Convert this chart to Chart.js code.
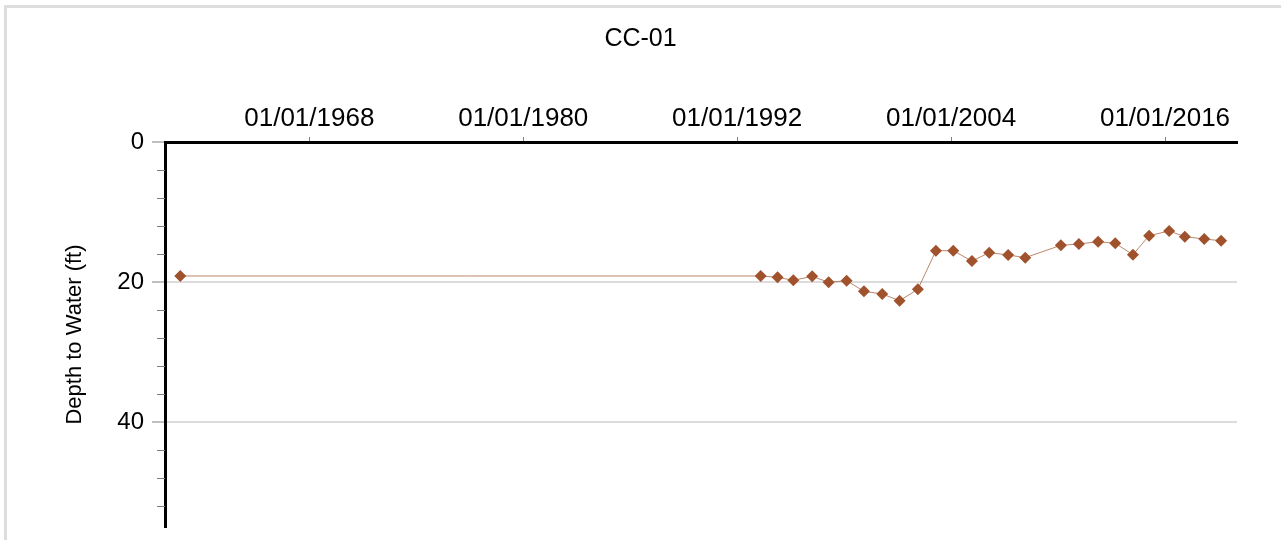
<!DOCTYPE html>
<html lang="en">
<head>
    <meta charset="UTF-8">
    <title>CC-01</title>
    <script src="https://cdn.jsdelivr.net/npm/chart.js"></script>
    <style>
        body {
            margin: 0;
            background: #ffffff;
            font-family: "Liberation Sans", Arial, sans-serif;
        }
        .wrap {
            position: relative;
            width: 1281px;
            height: 540px;
            overflow: hidden;
        }
        .frame {
            position: absolute;
            left: 4px;
            top: 5px;
            width: 1320px;
            height: 560px;
            border: 3px solid #dddddd;
            box-sizing: border-box;
        }
        canvas {
            position: absolute;
            left: 0;
            top: 0;
        }
    </style>
</head>
<body>
    <div class="wrap">
        <div class="frame"></div>
        <canvas id="depthChart" width="1281" height="540"></canvas>
    </div>

    <script>
        // measurement dates and depth to water (ft)
        const sampleDates = [
            '1960-10-05', '1993-04-27', '1994-04-08', '1995-02-24', '1996-03-17',
            '1997-02-17', '1998-02-21', '1999-02-10', '2000-02-20', '2001-02-10',
            '2002-02-20', '2003-02-24', '2004-02-14', '2005-03-03', '2006-02-20',
            '2007-03-15', '2008-02-28', '2010-02-28', '2011-03-03', '2012-04-01',
            '2013-03-17', '2014-03-15', '2015-02-10', '2016-03-25', '2017-02-10',
            '2018-03-15', '2019-02-24'
        ];
        const depthValues = [
            19.14, 19.14, 19.33, 19.76, 19.19,
            20.04, 19.81, 21.33, 21.71, 22.67,
            21.03, 15.53, 15.53, 17.0, 15.81,
            16.14, 16.52, 14.76, 14.57, 14.24,
            14.47, 16.10, 13.38, 12.71, 13.52,
            13.86, 14.10
        ];

        const xTickDates = ['1968-01-01', '1980-01-01', '1992-01-01', '2004-01-01', '2016-01-01'];
        const yTickValues = [0, 20, 40];
        const xMin = '1959-11-27';
        const xMax = '2020-01-15';
        const yMin = 0;
        const yMax = 55;
        const minorStep = 4;

        const toMs = d => Date.parse(d);
        const points = sampleDates.map((d, i) => ({ x: toMs(d), y: depthValues[i] }));

        const fontFamily = '"Liberation Sans", Arial, sans-serif';

        // small ticks between the labelled ones on the depth axis
        const minorTicks = {
            id: 'minorTicks',
            afterDraw(chart) {
                const y = chart.scales.y;
                const ctx = chart.ctx;
                const x0 = chart.chartArea.left;
                ctx.save();
                ctx.strokeStyle = '#808080';
                ctx.lineWidth = 1;
                for (let v = yMin + minorStep; v < yMax; v += minorStep) {
                    if (yTickValues.includes(v)) continue;
                    const py = Math.round(y.getPixelForValue(v)) + 0.5;
                    ctx.beginPath();
                    ctx.moveTo(x0 - 8, py);
                    ctx.lineTo(x0, py);
                    ctx.stroke();
                }
                ctx.restore();
            }
        };

        new Chart(document.getElementById('depthChart'), {
            type: 'line',
            data: {
                datasets: [{
                    label: 'CC-01',
                    data: points,
                    borderColor: 'rgba(160, 82, 45, 0.7)',
                    borderWidth: 1,
                    pointStyle: 'rectRot',
                    pointRadius: 6,
                    pointBackgroundColor: '#a0522d',
                    pointBorderColor: '#a0522d',
                    pointBorderWidth: 0,
                    tension: 0
                }]
            },
            options: {
                responsive: false,
                animation: false,
                layout: {
                    padding: { left: 0, right: 0, top: 0, bottom: 13 }
                },
                plugins: {
                    legend: { display: false },
                    tooltip: { enabled: false },
                    title: {
                        display: true,
                        text: 'CC-01',
                        color: '#000000',
                        font: { family: fontFamily, size: 25, weight: 'normal', lineHeight: 1.2 },
                        padding: { top: 24, bottom: 0 }
                    }
                },
                scales: {
                    x: {
                        type: 'linear',
                        position: 'top',
                        min: toMs(xMin),
                        max: toMs(xMax),
                        afterBuildTicks: scale => {
                            scale.ticks = xTickDates.map(d => ({ value: toMs(d) }));
                        },
                        afterFit: scale => {
                            scale.height = 88;
                            scale.paddingLeft = 0;
                            scale.paddingRight = 0;
                        },
                        grid: {
                            drawOnChartArea: false,
                            tickLength: 5,
                            tickColor: '#808080',
                            tickWidth: 1
                        },
                        border: { display: true, color: '#000000', width: 3 },
                        ticks: {
                            autoSkip: false,
                            maxRotation: 0,
                            padding: 3,
                            color: '#000000',
                            font: { family: fontFamily, size: 26 },
                            callback: value => '01/01/' + new Date(value).getUTCFullYear()
                        }
                    },
                    y: {
                        type: 'linear',
                        reverse: true,
                        min: yMin,
                        max: yMax,
                        afterBuildTicks: scale => {
                            scale.ticks = yTickValues.map(v => ({ value: v }));
                        },
                        afterFit: scale => {
                            scale.width = 165;
                            scale.paddingTop = 0;
                            scale.paddingBottom = 0;
                        },
                        grid: {
                            color: ctx => (ctx.tick && ctx.tick.value !== 0) ? '#dcdcdc' : 'rgba(0,0,0,0)',
                            lineWidth: 2,
                            tickColor: '#808080',
                            tickLength: 13,
                            tickWidth: 1
                        },
                        border: { display: true, color: '#000000', width: 3 },
                        ticks: {
                            padding: 8,
                            color: '#000000',
                            font: { family: fontFamily, size: 24 }
                        },
                        title: {
                            display: true,
                            text: 'Depth to Water (ft)',
                            color: '#000000',
                            font: { family: fontFamily, size: 22 },
                            padding: { top: 62, bottom: 0 }
                        }
                    },
                    // empty strip on the right, keeps the plot clear of the edge
                    yRight: {
                        type: 'linear',
                        position: 'right',
                        display: true,
                        afterFit: scale => {
                            scale.width = 44;
                            scale.paddingTop = 0;
                            scale.paddingBottom = 0;
                        },
                        grid: { display: false, drawOnChartArea: false },
                        border: { display: false },
                        ticks: { display: false }
                    }
                }
            },
            plugins: [minorTicks]
        });
    </script>
</body>
</html>
